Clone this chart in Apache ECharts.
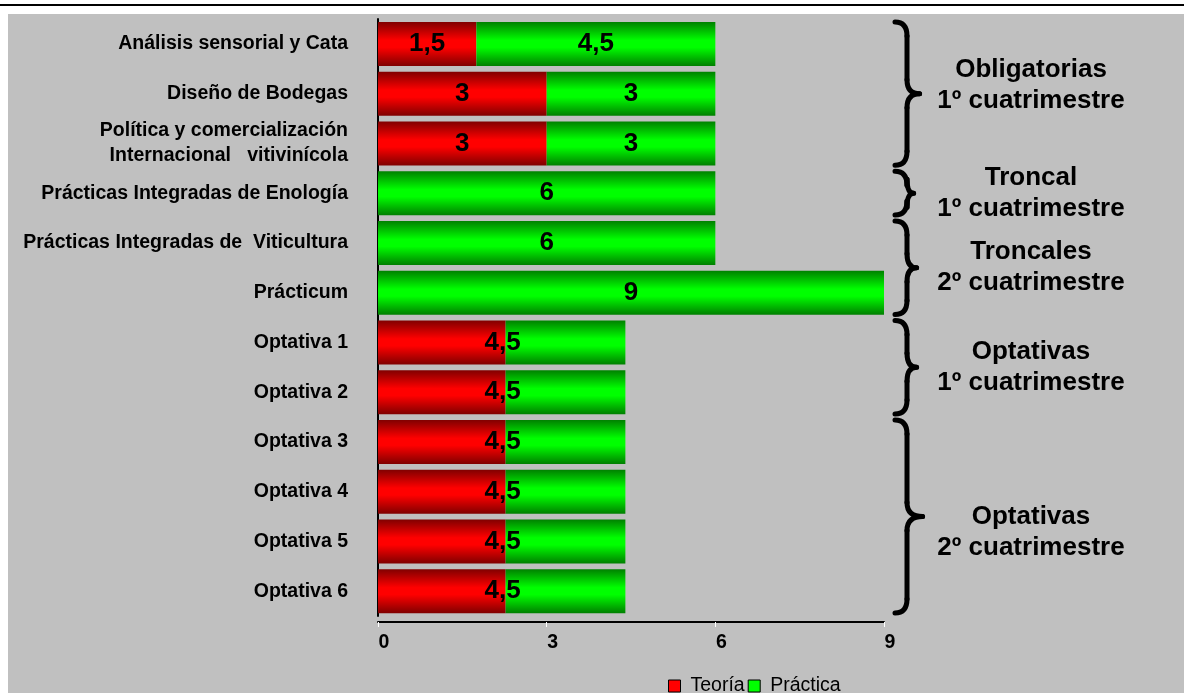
<!DOCTYPE html>
<html>
<head>
<meta charset="utf-8">
<script src="https://cdn.jsdelivr.net/npm/echarts@6/dist/echarts.min.js"></script>
<style>
html, body { margin: 0; padding: 0; background: #fff; }
.topline { position: absolute; left: 0; top: 4px; width: 1184px; height: 2px; background: #000; }
.panel { position: absolute; left: 8px; top: 14px; width: 1176px; height: 679px; background: #c0c0c0; }
#chart { position: absolute; left: 0; top: 0; width: 1184px; height: 693px; }
</style>
</head>
<body>
<div class="topline"></div>
<div class="panel"></div>
<div id="chart"></div>
<script>
const categories = [
  'Análisis sensorial y Cata',
  'Diseño de Bodegas',
  'Política y comercialización\nInternacional   vitivinícola',
  'Prácticas Integradas de Enología',
  'Prácticas Integradas de  Viticultura',
  'Prácticum',
  'Optativa 1',
  'Optativa 2',
  'Optativa 3',
  'Optativa 4',
  'Optativa 5',
  'Optativa 6'
];
// bar lengths as drawn
const teoria   = [1.75, 3, 3, 0, 0, 0, 2.27, 2.27, 2.27, 2.27, 2.27, 2.27];
const practica = [4.25, 3, 3, 6, 6, 9, 2.13, 2.13, 2.13, 2.13, 2.13, 2.13];
// label texts printed on the bars
const teoriaLabels   = ['1,5', '3', '3', '', '', '', '4,5', '4,5', '4,5', '4,5', '4,5', '4,5'];
const practicaLabels = ['4,5', '3', '3', '6', '6', '9', '', '', '', '', '', ''];
const xTicks = [0, 3, 6, 9];

const groupNames = [
  'Obligatorias\n1º cuatrimestre',
  'Troncal\n1º cuatrimestre',
  'Troncales\n2º cuatrimestre',
  'Optativas\n1º cuatrimestre',
  'Optativas\n2º cuatrimestre'
];
const groupFirst = [0, 3, 4, 6, 8];
const groupLast  = [2, 3, 5, 7, 11];

const FONT = 'Liberation Sans, Arial, sans-serif';

function grad(dark, bright) {
  return new echarts.graphic.LinearGradient(0, 0, 0, 1, [
    { offset: 0, color: dark },
    { offset: 0.42, color: bright },
    { offset: 0.58, color: bright },
    { offset: 1, color: dark }
  ]);
}

const chart = echarts.init(document.getElementById('chart'));

// optativas: single label straddling the red/green boundary
const teoriaData = teoria.map((v, i) => {
  if (practicaLabels[i] === '' && teoriaLabels[i] !== '') {
    return { value: v, label: { position: ['100%', '50%'], align: 'center', verticalAlign: 'middle', offset: [-3, 0] } };
  }
  return { value: v };
});

const labelStyle = {
  show: true,
  position: 'inside',
  color: '#000',
  fontFamily: FONT,
  fontWeight: 'bold',
  fontSize: 26
};

chart.setOption({
  animation: false,
  grid: { left: 378, right: 300, top: 19, height: 597 },
  legend: {
    left: 668,
    top: 676,
    padding: 0,
    itemWidth: 12,
    itemHeight: 12,
    itemGap: 3,
    icon: 'rect',
    textStyle: { fontFamily: FONT, fontSize: 19.5, color: '#000', padding: [0, 0, 0, 5] },
    data: [
      { name: 'Teoría', itemStyle: { color: '#ff0000', borderColor: '#000', borderWidth: 1 } },
      { name: 'Práctica', itemStyle: { color: '#00ff00', borderColor: '#000', borderWidth: 1 } }
    ]
  },
  xAxis: {
    type: 'value',
    min: xTicks[0],
    max: xTicks[xTicks.length - 1],
    interval: 3,
    offset: 6,
    splitLine: { show: false },
    axisLine: { show: true, lineStyle: { color: '#000', width: 2 } },
    axisTick: { show: true, length: 5, lineStyle: { color: '#fff', width: 1 } },
    axisLabel: {
      color: '#000', fontFamily: FONT, fontWeight: 'bold', fontSize: 19.5,
      margin: 11, padding: [0, 0, 0, 12]
    }
  },
  yAxis: {
    type: 'category',
    data: categories,
    inverse: true,
    axisLine: { show: true, lineStyle: { color: '#000', width: 2 } },
    axisTick: { show: false },
    axisLabel: {
      color: '#000', fontFamily: FONT, fontWeight: 'bold', fontSize: 19.5,
      margin: 30, lineHeight: 25
    }
  },
  series: [
    {
      name: 'Teoría',
      type: 'bar',
      stack: 'creditos',
      barWidth: 44,
      data: teoriaData,
      itemStyle: { color: grad('#800000', '#ff0000') },
      label: Object.assign({}, labelStyle, { formatter: p => teoriaLabels[p.dataIndex] })
    },
    {
      name: 'Práctica',
      type: 'bar',
      stack: 'creditos',
      barWidth: 44,
      data: practica,
      itemStyle: { color: grad('#008000', '#00ff00') },
      label: Object.assign({}, labelStyle, { formatter: p => practicaLabels[p.dataIndex] })
    }
  ]
});

// braces and group captions on the right
const textShift = [-8, 0, 0, 0, 16];
const y0 = chart.convertToPixel({ yAxisIndex: 0 }, categories[0]);
const y1 = chart.convertToPixel({ yAxisIndex: 0 }, categories[1]);
const band = y1 - y0;
const braceStyle = { fill: null, stroke: '#000', lineWidth: 5, lineCap: 'round' };
const elements = [];
groupNames.forEach((name, g) => {
  const top = chart.convertToPixel({ yAxisIndex: 0 }, categories[groupFirst[g]]) - band / 2 + 3;
  const bot = chart.convertToPixel({ yAxisIndex: 0 }, categories[groupLast[g]]) + band / 2 - 3;
  const mid = (top + bot) / 2;
  const x = 895;
  const s = 12;
  const w = Math.min(32, 16 + (bot - top) * 0.06);
  const r = 14;
  const pieces = [
    { type: 'bezierCurve', shape: { x1: x, y1: top, cpx1: x + s, cpy1: top, x2: x + s, y2: top + r } },
    { type: 'line', shape: { x1: x + s, y1: top + r, x2: x + s, y2: mid - r } },
    { type: 'bezierCurve', shape: { x1: x + s, y1: mid - r, cpx1: x + s, cpy1: mid, x2: x + w, y2: mid } },
    { type: 'bezierCurve', shape: { x1: x + w, y1: mid, cpx1: x + s, cpy1: mid, x2: x + s, y2: mid + r } },
    { type: 'line', shape: { x1: x + s, y1: mid + r, x2: x + s, y2: bot - r } },
    { type: 'bezierCurve', shape: { x1: x + s, y1: bot - r, cpx1: x + s, cpy1: bot, x2: x, y2: bot } }
  ];
  pieces.forEach(p => {
    p.silent = true;
    p.style = braceStyle;
    elements.push(p);
  });
  elements.push({
    type: 'text',
    silent: true,
    style: {
      text: name,
      x: 1031,
      y: mid + textShift[g],
      align: 'center',
      verticalAlign: 'middle',
      textAlign: 'center',
      textVerticalAlign: 'middle',
      font: 'bold 26px ' + FONT,
      lineHeight: 31,
      fill: '#000'
    }
  });
});
chart.setOption({ graphic: { elements: elements } });
</script>
</body>
</html>
